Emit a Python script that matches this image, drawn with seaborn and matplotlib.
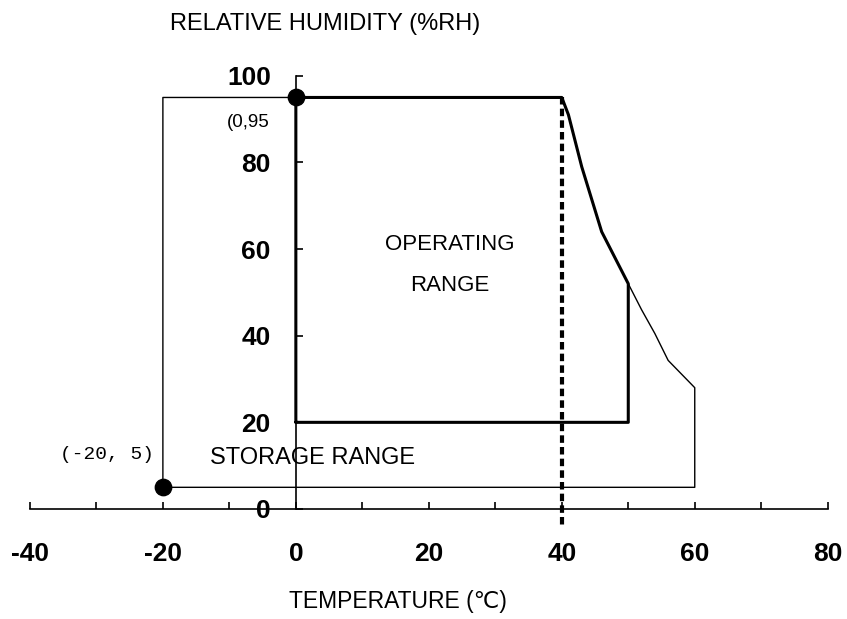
import numpy as np
import pandas as pd
import matplotlib
matplotlib.use("Agg")
import matplotlib.pyplot as plt
import seaborn as sns

# operating envelope (thick outline)
op_temp = [0, 0, 40, 41, 43, 46, 50, 50, 0]
op_rh = [20, 95, 95, 91, 79, 64, 52, 20, 20]

# storage envelope (thin outline)
st_temp = [-20, -20, 40, 41, 43, 46, 50, 52, 54, 56, 60, 60, -20]
st_rh = [5, 95, 95, 91, 79, 64, 52, 46, 40.5, 34.3, 28, 5, 5]

# corner points marked with dots
pt_temp = [0, -20]
pt_rh = [95, 5]

# 40 degree limit line
lim_temp = [40, 40]
lim_rh = [95, -4.5]

x_major = [-40, -20, 0, 20, 40, 60, 80]
x_minor = [-30, -10, 10, 30, 50, 70]
y_major = [0, 20, 40, 60, 80, 100]

sns.set_style("white")
plt.rcParams["font.family"] = ["Liberation Sans", "DejaVu Sans"]
plt.rcParams["axes.unicode_minus"] = False
plt.rcParams["text.color"] = "black"
plt.rcParams["xtick.color"] = "black"
plt.rcParams["ytick.color"] = "black"

fig = plt.figure(figsize=(8.47, 6.19), dpi=100)
ax = fig.add_axes([0, 0, 1, 1])

op = pd.DataFrame({"temp": op_temp, "rh": op_rh})
st = pd.DataFrame({"temp": st_temp, "rh": st_rh})
pts = pd.DataFrame({"temp": pt_temp, "rh": pt_rh})
lim = pd.DataFrame({"temp": lim_temp, "rh": lim_rh})

sns.lineplot(data=st, x="temp", y="rh", sort=False, estimator=None,
             color="black", linewidth=1.0, ax=ax)
sns.lineplot(data=lim, x="temp", y="rh", sort=False, estimator=None,
             color="black", linewidth=3.0, ax=ax)
ax.lines[-1].set_dashes((1.8, 1.0))
sns.lineplot(data=op, x="temp", y="rh", sort=False, estimator=None,
             color="black", linewidth=2.2, ax=ax)
sns.scatterplot(data=pts, x="temp", y="rh", color="black", s=140,
                edgecolor="black", zorder=5, ax=ax)

ax.set_xlim(-44.5, 82.9)
ax.set_ylim(-25.4, 117.5)

for side in ["top", "right"]:
    ax.spines[side].set_visible(False)
ax.spines["left"].set_position(("data", 0))
ax.spines["bottom"].set_position(("data", 0))
ax.spines["left"].set_bounds(0, 100)
ax.spines["bottom"].set_bounds(-40, 80)
for side in ["left", "bottom"]:
    ax.spines[side].set_color("black")
    ax.spines[side].set_linewidth(1.2)

ax.set_xticks(x_major)
ax.set_xticks(x_minor, minor=True)
ax.set_xticklabels([str(v) for v in x_major], fontsize=19, fontweight="bold")
ax.set_yticks(y_major)
ax.set_yticklabels([str(v) for v in y_major], fontsize=19, fontweight="bold")
ax.tick_params(axis="x", which="both", bottom=True, direction="in",
               length=5, width=1.2, color="black", pad=24)
ax.tick_params(axis="y", which="both", left=True, direction="in",
               length=5, width=1.2, color="black", pad=18)
ax.set_xlabel("")
ax.set_ylabel("")

ax.text(23.2, 61, "OPERATING", ha="center", va="center", fontsize=16)
ax.text(23.2, 51.5, "RANGE", ha="center", va="center", fontsize=16)
ax.text(-12.9, 11.8, "STORAGE RANGE", ha="left", va="center", fontsize=17)
ax.text(-35.5, 12.5, "(-20, 5)", ha="left", va="center", fontsize=14,
        family="Liberation Mono")
ax.text(-3.9, 89.2, "(0,95", ha="right", va="center", fontsize=13.5)
ax.text(-18.9, 114.5, "RELATIVE HUMIDITY (%RH)", ha="left", va="top",
        fontsize=17)
ax.text(-1, -18.8, "TEMPERATURE (\u2103)", ha="left", va="top", fontsize=16.5,
        family=["Liberation Sans", "DejaVu Sans"])

fig.savefig("out.png", dpi=100, facecolor="white")
